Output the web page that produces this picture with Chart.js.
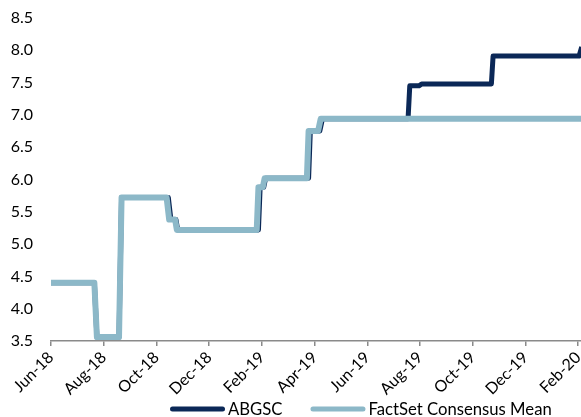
<!DOCTYPE html>
<html>
<head>
<meta charset="utf-8">
<script src="https://cdn.jsdelivr.net/npm/chart.js@4.4.1/dist/chart.umd.min.js"></script>
<style>
  html, body { margin: 0; padding: 0; background: #ffffff; }
  #wrap { width: 581px; height: 417px; position: relative; }
</style>
</head>
<body>
<div id="wrap"><canvas id="chart" width="581" height="417"></canvas></div>
<script>
// Month-start tick labels, every second month
const tickLabels = ['Jun-18', 'Aug-18', 'Oct-18', 'Dec-18', 'Feb-19', 'Apr-19',
                    'Jun-19', 'Aug-19', 'Oct-19', 'Dec-19', 'Feb-20'];

// ABGSC target price path (vertices of the step line)
const abgscDates = ['2018-06-01', '2018-07-21', '2018-07-24', '2018-08-19', '2018-08-22',
                    '2018-10-15', '2018-10-18', '2018-10-24', '2018-10-26', '2019-01-28',
                    '2019-01-30', '2019-02-03', '2019-02-05', '2019-03-25', '2019-03-27',
                    '2019-04-07', '2019-04-10', '2019-07-18', '2019-07-20', '2019-07-31',
                    '2019-08-03', '2019-10-23', '2019-10-25', '2020-02-02', '2020-02-05'];
const abgscValues = [4.40, 4.40, 3.56, 3.56, 5.72,
                     5.72, 5.38, 5.38, 5.22, 5.22,
                     5.88, 5.88, 6.02, 6.02, 6.75,
                     6.75, 6.94, 6.94, 7.45, 7.45,
                     7.48, 7.48, 7.91, 7.91, 8.05];

// FactSet consensus mean path
const consensusDates = ['2018-06-01', '2018-07-21', '2018-07-24', '2018-08-19', '2018-08-22',
                        '2018-10-13', '2018-10-16', '2018-10-23', '2018-10-25', '2019-01-26',
                        '2019-01-28', '2019-02-02', '2019-02-04', '2019-03-23', '2019-03-25',
                        '2019-04-05', '2019-04-08', '2020-02-10'];
const consensusValues = [4.40, 4.40, 3.56, 3.56, 5.72,
                         5.72, 5.38, 5.38, 5.22, 5.22,
                         5.88, 5.88, 6.02, 6.02, 6.75,
                         6.75, 6.94, 6.94];

// Convert a date to fractional months since 1 Jun 2018
function monthIndex(s) {
  const [y, m, d] = s.split('-').map(Number);
  const days = new Date(y, m, 0).getDate();
  return (y - 2018) * 12 + (m - 6) + (d - 1) / days;
}
function toPoints(dates, values) {
  return dates.map((d, i) => ({ x: monthIndex(d), y: values[i] }));
}

const FONT = 'Lato, "Open Sans", sans-serif';
const AXIS_GREY = '#8a8a8a';

// Legend drawn as line swatches with rounded caps, in dataset order
const lineLegend = {
  id: 'lineLegend',
  afterDraw(chart) {
    const ctx = chart.ctx;
    const y = 409;
    let x = 170;
    ctx.save();
    ctx.font = '16.7px ' + FONT;
    ctx.textBaseline = 'middle';
    ctx.textAlign = 'left';
    chart.data.datasets.forEach((ds) => {
      ctx.strokeStyle = ds.borderColor;
      ctx.lineWidth = 5;
      ctx.lineCap = 'round';
      ctx.beginPath();
      ctx.moveTo(x + 2.5, y);
      ctx.lineTo(x + 52.5, y);
      ctx.stroke();
      ctx.fillStyle = '#000000';
      ctx.fillText(ds.label, x + 58, y + 1);
      x += 58 + ctx.measureText(ds.label).width + 28;
    });
    ctx.restore();
  }
};

new Chart(document.getElementById('chart'), {
  type: 'line',
  data: {
    datasets: [
      {
        label: 'ABGSC',
        data: toPoints(abgscDates, abgscValues),
        borderColor: '#0b2857',
        backgroundColor: '#0b2857',
        borderWidth: 5,
        pointRadius: 0,
        tension: 0,
        borderJoinStyle: 'round',
        order: 1
      },
      {
        label: 'FactSet Consensus Mean',
        data: toPoints(consensusDates, consensusValues),
        borderColor: '#8cb8c8',
        backgroundColor: '#8cb8c8',
        borderWidth: 6,
        pointRadius: 0,
        tension: 0,
        borderJoinStyle: 'round',
        order: 0
      }
    ]
  },
  plugins: [lineLegend],
  options: {
    responsive: false,
    animation: false,
    devicePixelRatio: 1,
    layout: { padding: { top: 18, right: 0, bottom: 20, left: 0 } },
    plugins: {
      tooltip: { enabled: false },
      legend: { display: false }
    },
    scales: {
      x: {
        type: 'linear',
        min: 0,
        max: 20.11,
        afterBuildTicks: (scale) => {
          scale.ticks = tickLabels.map((_, i) => ({ value: i * 2 }));
        },
        afterFit: (scale) => {
          scale.height = 56;
          scale.paddingRight = 0;
        },
        ticks: {
          autoSkip: false,
          minRotation: 45,
          maxRotation: 45,
          padding: 2,
          color: '#000000',
          font: { family: FONT, size: 16 },
          callback: (v) => tickLabels[Math.round(v / 2)]
        },
        grid: {
          drawOnChartArea: false,
          drawTicks: true,
          tickLength: 5,
          color: AXIS_GREY,
          lineWidth: 1.5
        },
        border: { display: true, color: AXIS_GREY, width: 1.5 }
      },
      y: {
        min: 3.5,
        max: 8.5,
        afterFit: (scale) => {
          scale.width = 51;
          scale.paddingTop = 0;
          scale.paddingBottom = 0;
        },
        ticks: {
          stepSize: 0.5,
          padding: 18,
          color: '#000000',
          font: { family: FONT, size: 16 },
          callback: (v) => Number(v).toFixed(1)
        },
        grid: { display: false, drawTicks: false },
        border: { display: false }
      }
    }
  }
});
</script>
</body>
</html>
